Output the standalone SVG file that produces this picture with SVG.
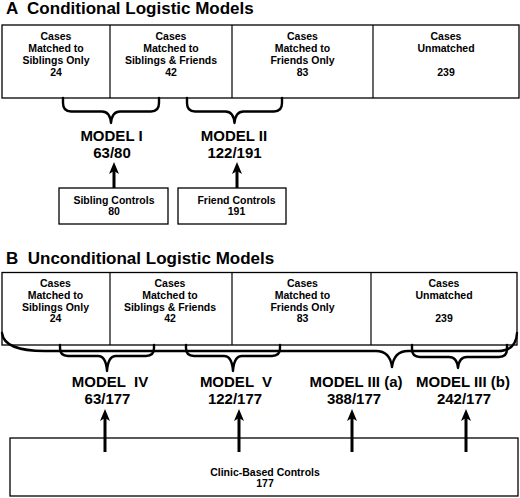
<svg xmlns="http://www.w3.org/2000/svg" width="520" height="498" viewBox="0 0 520 498">
<style>
text{font-family:"Liberation Sans",Arial,sans-serif;font-weight:bold;fill:#000;text-anchor:middle}
.title{font-size:17px;text-anchor:start}
.bt{font-size:10.5px}
.model{font-size:15px}
.box{fill:#fff;stroke:#000;stroke-width:1.3}
.div{stroke:#000;stroke-width:1.2;fill:none}
.brace{fill:none;stroke:#000;stroke-width:2.4;stroke-linejoin:round;stroke-linecap:round}
.arrow{fill:none;stroke:#000;stroke-width:3;marker-end:url(#ah)}
</style>
<defs>
<marker id="ah" markerUnits="userSpaceOnUse" markerWidth="12" markerHeight="10" viewBox="0 0 12 10" refX="3" refY="5" orient="auto">
<path d="M0,0 L12,5 L0,10 L3,5 z" fill="#000"/>
</marker>
</defs>
<rect width="520" height="498" fill="#fff"/>

<text class="title" x="6" y="14" xml:space="preserve">A  Conditional Logistic Models</text>

<g id="panelA-cases">
<rect class="box" x="2" y="25" width="517" height="73"/>
<line class="div" x1="110" y1="25" x2="110" y2="98"/>
<line class="div" x1="232" y1="25" x2="232" y2="98"/>
<line class="div" x1="373" y1="25" x2="373" y2="98"/>
</g>
<g id="A-sib-only"><text class="bt" x="56" y="39.5">Cases</text><text class="bt" x="56" y="51.5">Matched to</text><text class="bt" x="56" y="63.5">Siblings Only</text><text class="bt" x="56" y="75.5">24</text></g>
<g id="A-sib-friends"><text class="bt" x="171" y="39.5">Cases</text><text class="bt" x="171" y="51.5">Matched to</text><text class="bt" x="171" y="63.5">Siblings &amp; Friends</text><text class="bt" x="171" y="75.5">42</text></g>
<g id="A-friend-only"><text class="bt" x="302.5" y="39.5">Cases</text><text class="bt" x="302.5" y="51.5">Matched to</text><text class="bt" x="302.5" y="63.5">Friends Only</text><text class="bt" x="302.5" y="75.5">83</text></g>
<g id="A-unmatched"><text class="bt" x="446" y="39.5">Cases</text><text class="bt" x="446" y="51.5">Unmatched</text><text class="bt" x="446" y="75.5">239</text></g>

<g id="model1"><text class="model" x="111.5" y="141">MODEL I</text><text class="model" x="112" y="158">63/80</text></g>
<g id="model2"><text class="model" x="234" y="141">MODEL II</text><text class="model" x="234.5" y="158">122/191</text></g>

<g id="sibling-controls"><rect class="box" x="59" y="188" width="109" height="36"/><text class="bt" x="114" y="203.5">Sibling Controls</text><text class="bt" x="114" y="215">80</text></g>
<g id="friend-controls"><rect class="box" x="178" y="188" width="108" height="36"/><text class="bt" x="236.5" y="203.5">Friend Controls</text><text class="bt" x="236.5" y="215">191</text></g>

<text class="title" x="6" y="264" xml:space="preserve">B  Unconditional Logistic Models</text>

<g id="panelB-cases">
<rect class="box" x="2" y="272.5" width="515" height="72.5"/>
<line class="div" x1="110" y1="272.5" x2="110" y2="345"/>
<line class="div" x1="232" y1="272.5" x2="232" y2="345"/>
<line class="div" x1="371" y1="272.5" x2="371" y2="345"/>
</g>
<g id="B-sib-only"><text class="bt" x="55.5" y="286.5">Cases</text><text class="bt" x="55.5" y="298.5">Matched to</text><text class="bt" x="55.5" y="310.5">Siblings Only</text><text class="bt" x="55.5" y="322">24</text></g>
<g id="B-sib-friends"><text class="bt" x="170" y="286.5">Cases</text><text class="bt" x="170" y="298.5">Matched to</text><text class="bt" x="170" y="310.5">Siblings &amp; Friends</text><text class="bt" x="170" y="322">42</text></g>
<g id="B-friend-only"><text class="bt" x="302.5" y="286.5">Cases</text><text class="bt" x="302.5" y="298.5">Matched to</text><text class="bt" x="302.5" y="310.5">Friends Only</text><text class="bt" x="302.5" y="322">83</text></g>
<g id="B-unmatched"><text class="bt" x="444" y="286.5">Cases</text><text class="bt" x="444" y="298.5">Unmatched</text><text class="bt" x="444" y="322">239</text></g>

<g id="model4"><text class="model" x="110" y="387" xml:space="preserve">MODEL  IV</text><text class="model" x="107.5" y="404">63/177</text></g>
<g id="model5"><text class="model" x="236" y="387" xml:space="preserve">MODEL  V</text><text class="model" x="235" y="404">122/177</text></g>
<g id="model3a"><text class="model" x="356" y="387">MODEL III (a)</text><text class="model" x="354" y="404">388/177</text></g>
<g id="model3b"><text class="model" x="463" y="387">MODEL III (b)</text><text class="model" x="464" y="404">242/177</text></g>

<g id="clinic-controls"><rect class="box" x="10" y="438" width="508" height="58"/><text class="bt" x="265" y="476">Clinic-Based Controls</text><text class="bt" x="265" y="487">177</text></g>

<g id="connectors">
<path class="brace" d="M63,98 V103 Q63,111.5 71,111.5 H102 Q110,111.5 111,123 Q112,111.5 120,111.5 H151 Q159,111.5 159,103 V98"/>
<path class="brace" d="M187,98 V103 Q187,111.5 195,111.5 H225.5 Q233.5,111.5 234.5,123 Q235.5,111.5 243.5,111.5 H274 Q282,111.5 282,103 V98"/>
<path class="arrow" d="M114,188 V171"/>
<path class="arrow" d="M237,188 V171"/>

<path class="brace" d="M2,333 Q4,351 45,351 H376 Q390,351 392,367 Q394,351 408,351 H498 Q516,351 517,333"/>
<path class="brace" d="M60,345 V348 Q60,356 68,356 H98 Q106,356 107,371 Q108,356 116,356 H146 Q154,356 154,348 V345"/>
<path class="brace" d="M186,345 V348 Q186,356 194,356 H224 Q232,356 233,371 Q234,356 242,356 H272 Q280,356 280,348 V345"/>
<path class="brace" d="M412,345 V349 Q412,357 420,357 H449 Q457,357 458,368 Q459,357 467,357 H499 Q507,357 507,349 V345"/>

<path class="arrow" d="M105,452 V418"/>
<path class="arrow" d="M239,452 V418"/>
<path class="arrow" d="M352,452 V418"/>
<path class="arrow" d="M466,452 V418"/>
</g>
</svg>
